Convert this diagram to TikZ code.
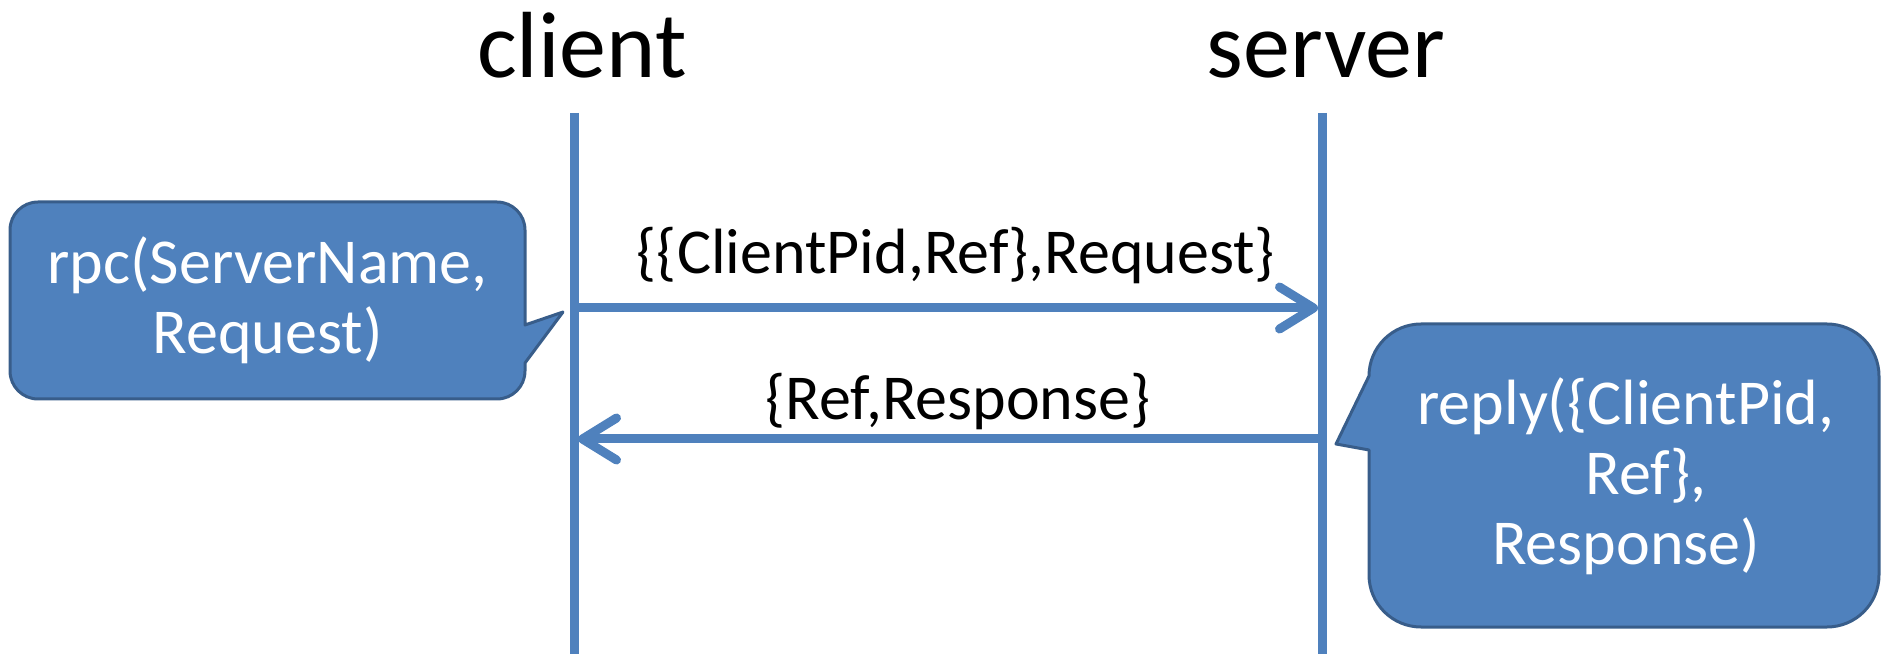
\documentclass[tikz,border=0pt]{standalone}
\usepackage{fontspec}
\setmainfont{Carlito}
\usetikzlibrary{arrows.meta}
\definecolor{lineblue}{HTML}{4F81BD}
\definecolor{edgeblue}{HTML}{385D8A}
\begin{document}
\begin{tikzpicture}[x=1pt,y=1pt,
  lifeline/.style={draw=lineblue, line width=9pt},
  msg/.style={draw=lineblue, line width=9pt, line cap=round, -{Straight Barb[length=34pt,width=42pt,round]}},
  callout/.style={fill=lineblue, draw=edgeblue, line width=3pt, line join=round},
  big/.style={font=\fontsize{94}{110}\selectfont, inner sep=0pt},
  lbl/.style={font=\fontsize{64}{70}\selectfont, inner sep=0pt},
  boxtext/.style={font=\fontsize{64}{70}\selectfont, text=white, align=center, inner sep=0pt}]
\useasboundingbox (0,0) rectangle (1883,654);
\node[big, anchor=base] (client) at (582,576) {client};
\node[big, anchor=base] (server) at (1326,576) {server};
\coordinate (ctop) at (574,541); \coordinate (cbot) at (574,0);
\coordinate (stop) at (1322,541); \coordinate (sbot) at (1322,0);
\draw[lifeline] (ctop) -- (cbot);
\draw[lifeline] (stop) -- (sbot);
\coordinate (m1a) at (579,346); \coordinate (m1b) at (1318,346);
\coordinate (m2a) at (1318,215); \coordinate (m2b) at (578,215);
\draw[msg] (m1a) -- (m1b);
\draw[msg] (m2a) -- (m2b);
\node[lbl, anchor=base] (l1) at (956,380) {\{\{ClientPid,Ref\},Request\}};
\node[lbl, anchor=base] (l2) at (958,234) {\{Ref,Response\}};
\draw[callout] (38,452) -- (497,452) arc[start angle=90,end angle=0,radius=28] -- (525,329) -- (563,342) -- (525,291) -- (525,283) arc[start angle=0,end angle=-90,radius=28] -- (38,255) arc[start angle=270,end angle=180,radius=28] -- (10,424) arc[start angle=180,end angle=90,radius=28] -- cycle;
\node[boxtext] (rpc) at (267.5,354) {rpc(ServerName,\\Request)};
\draw[callout] (1421,330) -- (1827,330) arc[start angle=90,end angle=0,radius=52] -- (1879,79) arc[start angle=0,end angle=-90,radius=52] -- (1421,27) arc[start angle=270,end angle=180,radius=52] -- (1369,204) -- (1336,210) -- (1369,278) arc[start angle=180,end angle=90,radius=52] -- cycle;
\node[boxtext] (reply) at (1626,178) {reply(\{ClientPid,\\\hspace*{40pt}Ref\},\\Response)};
\end{tikzpicture}
\end{document}
